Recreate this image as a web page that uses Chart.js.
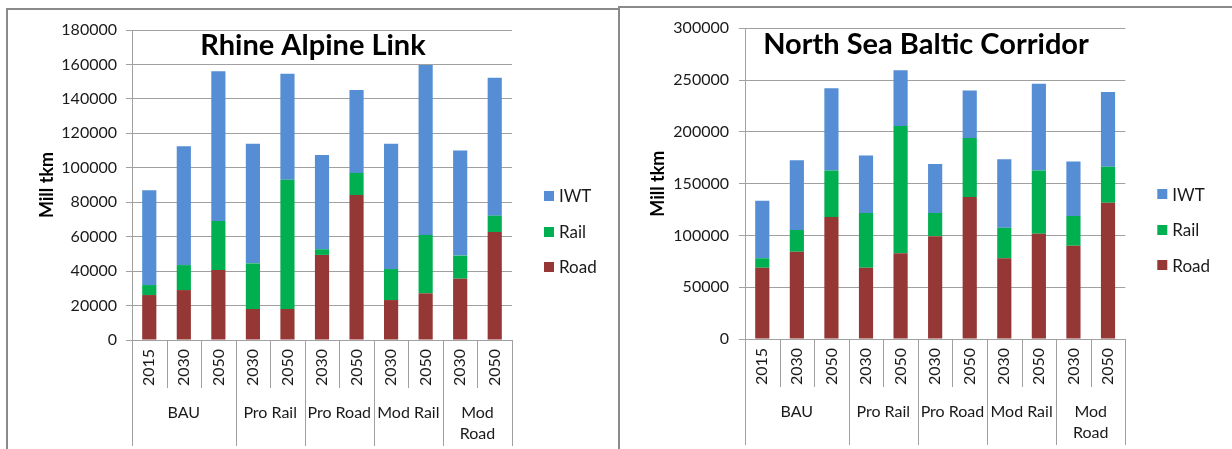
<!DOCTYPE html>
<html><head><meta charset="utf-8">
<script src="https://cdn.jsdelivr.net/npm/chart.js@4.4.1/dist/chart.umd.min.js"></script>
<style>
html,body{margin:0;padding:0;background:#fff;width:1232px;height:449px;overflow:hidden;position:relative;}
.box{position:absolute;border:2px solid #8a8a8a;border-bottom:none;box-sizing:border-box;}
#boxL{left:6px;top:8px;width:614px;height:470px;}
#boxR{left:618px;top:6px;width:660px;height:470px;}
.cw{position:absolute;}
#wL{left:8px;top:10px;width:610px;height:439px;}
#wR{left:620px;top:8px;width:612px;height:441px;}
</style></head>
<body>
<div class="box" id="boxL"></div>
<div class="box" id="boxR"></div>
<div class="cw" id="wL"><canvas id="cL" width="610" height="439"></canvas></div>
<div class="cw" id="wR"><canvas id="cR" width="612" height="441"></canvas></div>
<script>
// ---- data ----
const categories = ['2015','2030','2050','2030','2050','2030','2050','2030','2050','2030','2050'];
const groupLabels = [['BAU'],['Pro Rail'],['Pro Road'],['Mod Rail'],['Mod','Road']];
const groupSpans = [3,2,2,2,2];
const seriesNames = ['Road','Rail','IWT'];
const seriesColors = ['#953735','#00B050','#558ED5'];

const rhineTitle = 'Rhine Alpine Link';
const rhineRoad = [26100, 29000, 40600, 18000, 18000, 49400, 84200, 23200, 27100, 35600, 62700];
const rhineRail = [5800, 14500, 28500, 26500, 75100, 3300, 12800, 18000, 33900, 13400, 9500];
const rhineIWT  = [55100, 69000, 86900, 69500, 61500, 54700, 48200, 72800, 98700, 61000, 80100];
const rhineYTicks = [0,20000,40000,60000,80000,100000,120000,140000,160000,180000];

const nsbTitle = 'North Sea Baltic Corridor';
const nsbRoad = [68800, 84300, 117800, 68800, 82700, 99200, 137100, 77900, 101600, 90000, 131600];
const nsbRail = [9100, 20900, 45000, 52800, 122900, 22400, 56900, 29500, 61200, 28700, 34700];
const nsbIWT  = [55600, 67300, 79200, 55700, 53800, 47300, 46000, 66100, 83600, 52800, 72100];
const nsbYTicks = [0,50000,100000,150000,200000,250000,300000];

const yAxisTitle = 'Mill tkm';

// ---- decorations: multi-level category axis + legend ----
const FONT = 'Lato';
const decor = {
  id: 'decor',
  afterDraw(chart, args, o) {
    const ctx = chart.ctx, xs = chart.scales.x, ca = chart.chartArea;
    const n = chart.data.labels.length;
    const px = i => xs.getPixelForValue(i);
    const edge = i => i === 0 ? xs.left : (i === n ? xs.right : (px(i - 1) + px(i)) / 2);
    const gb = new Set([0]); let acc = 0; groupSpans.forEach(s => { acc += s; gb.add(acc); });
    ctx.save();
    ctx.strokeStyle = o.lineColor; ctx.lineWidth = 1;
    for (let i = 0; i <= n; i++) {
      const xx = Math.round(edge(i)) + 0.5;
      ctx.beginPath();
      ctx.moveTo(xx, ca.bottom);
      ctx.lineTo(xx, ca.bottom + (gb.has(i) ? o.longLen : o.shortLen));
      ctx.stroke();
    }
    ctx.fillStyle = o.textColor;
    ctx.font = '16px ' + FONT;
    ctx.textAlign = 'center'; ctx.textBaseline = 'middle';
    let start = 0;
    groupLabels.forEach((g, k) => {
      const cx = (edge(start) + edge(start + groupSpans[k])) / 2;
      g.forEach((line, j) => ctx.fillText(line, cx, ca.bottom + o.groupY + j * o.groupLH));
      start += groupSpans[k];
    });
    // legend (top to bottom: reversed dataset order)
    const ds = chart.data.datasets.slice().reverse();
    ctx.font = '17px ' + FONT; ctx.textAlign = 'left';
    ds.forEach((d, k) => {
      const cy = ca.top + o.legY0 + k * o.legDY;
      const lx = ca.right + o.legX;
      ctx.fillStyle = d.backgroundColor;
      ctx.fillRect(lx, Math.round(cy - 5), 10, 10);
      ctx.fillStyle = o.textColor;
      ctx.fillText(d.label, lx + 15, cy + 1);
    });
    ctx.restore();
  }
};

function makeChart(id, title, road, rail, iwt, yTicks, cfg) {
  const series = [road, rail, iwt];
  return new Chart(document.getElementById(id), {
    type: 'bar',
    data: {
      labels: categories,
      datasets: seriesNames.map((nm, i) => ({
        label: nm, data: series[i], backgroundColor: seriesColors[i],
        borderWidth: 0, barPercentage: 0.41, categoryPercentage: 1
      }))
    },
    options: {
      responsive: false, animation: false, devicePixelRatio: 1,
      layout: { padding: 0 },
      plugins: {
        legend: { display: false },
        tooltip: { enabled: false },
        title: {
          display: true, text: title, color: '#000',
          font: { family: FONT, size: 29, weight: 'bold', lineHeight: 1 },
          padding: { top: cfg.titleTop, bottom: cfg.titleBottom }
        },
        decor: {
          lineColor: '#a0a0a0', textColor: '#1a1a1a',
          shortLen: 48, longLen: 106, groupY: 73, groupLH: 21,
          legX: 32, legY0: 166, legDY: 35.5
        }
      },
      scales: {
        x: {
          stacked: true,
          afterFit: s => { s.height = cfg.xH; },
          grid: { display: false, drawTicks: false },
          border: { display: true, color: '#a0a0a0' },
          ticks: { font: { family: FONT, size: 16 }, color: '#1a1a1a', padding: 9,
                   minRotation: 90, maxRotation: 90, autoSkip: false }
        },
        y: {
          stacked: true, min: 0, max: yTicks[yTicks.length - 1],
          afterBuildTicks: s => { s.ticks = yTicks.map(v => ({ value: v })); },
          afterFit: s => { s.width = cfg.yW; },
          grid: { color: '#a0a0a0', tickLength: 6, drawTicks: true },
          border: { color: '#a0a0a0' },
          ticks: { font: { family: FONT, size: 16 }, color: '#1a1a1a', padding: cfg.tickPad,
                   callback: v => String(v) },
          title: { display: true, text: yAxisTitle, color: '#000',
                   font: { family: FONT, size: 18, weight: 'bold' },
                   padding: { top: cfg.yTitlePad, bottom: 0 } }
        },
        legendSpace: {
          type: 'linear', position: 'right', display: true,
          afterFit: s => { s.width = cfg.rightPad; },
          grid: { display: false, drawTicks: false },
          border: { display: false },
          ticks: { display: false }
        }
      }
    },
    plugins: [decor]
  });
}

makeChart('cL', rhineTitle, rhineRoad, rhineRail, rhineIWT, rhineYTicks,
  { rightPad: 106, titleTop: 21.5, titleBottom: -30.5, xH: 109, yW: 124, tickPad: 9, yTitlePad: 28 });
makeChart('cR', nsbTitle, nsbRoad, nsbRail, nsbIWT, nsbYTicks,
  { rightPad: 106.7, titleTop: 22, titleBottom: -30.7, xH: 110, yW: 125, tickPad: 10, yTitlePad: 27 });
</script>
</body></html>
